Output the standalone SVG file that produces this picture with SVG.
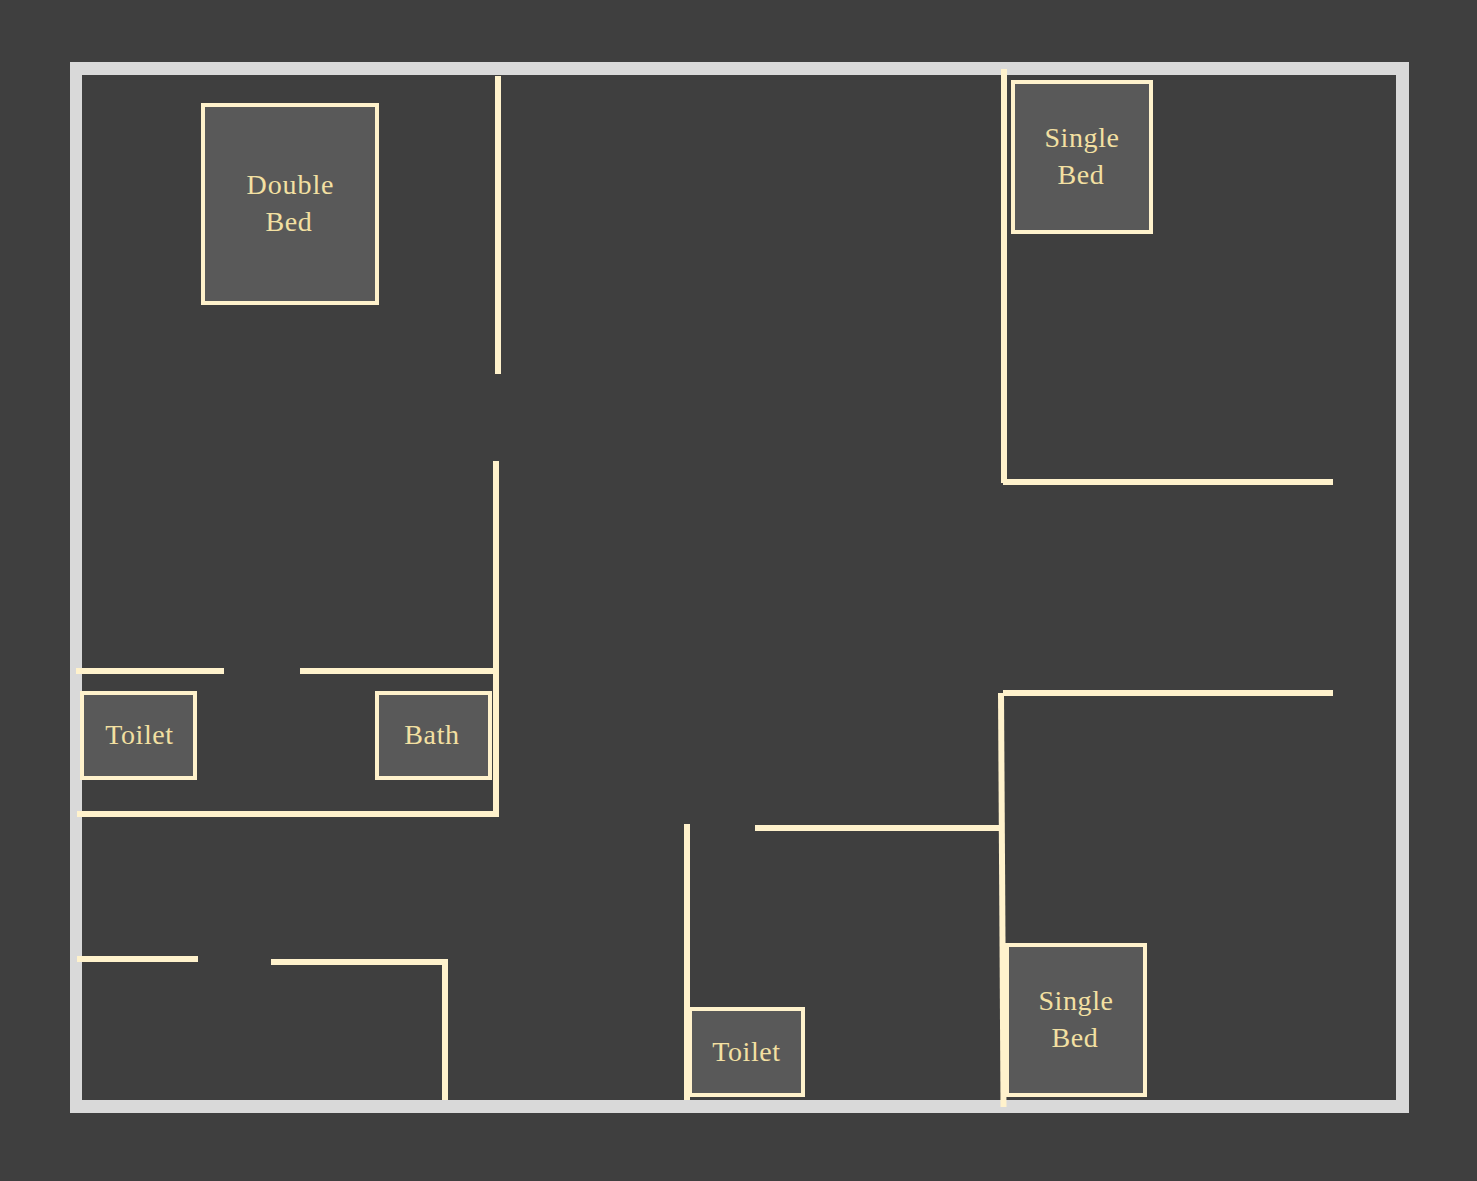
<svg xmlns="http://www.w3.org/2000/svg" width="1477" height="1181" viewBox="0 0 1477 1181">
<style>
.wall{stroke:#fff2cc;stroke-width:6;fill:none}
.item rect{fill:#595959;stroke:#fff2cc;stroke-width:4}
.item text{font-family:"Liberation Serif","Times New Roman",serif;font-size:28px;fill:#f3e0a2;text-anchor:middle;letter-spacing:.6px}
</style>
<rect width="1477" height="1181" fill="#3f3f3f"/>
<path id="outer" fill="#d9d9d9" fill-rule="evenodd" d="M70 62H1409V1113H70ZM82 75V1100H1396V75Z"/>
<g id="connectors">
<path class="wall" d="M498 76V374"/>
<path class="wall" d="M496 461V816"/>
<path class="wall" d="M76 671H224"/>
<path class="wall" d="M300 671H496"/>
<path class="wall" d="M77 814H499"/>
<path class="wall" d="M77 959H198"/>
<path class="wall" d="M271 962H447"/>
<path class="wall" d="M445 959V1100"/>
<path class="wall" d="M687 824V1100"/>
<path class="wall" d="M755 828H1001"/>
<path class="wall" d="M1001 693L1003.500 1107"/>
<path class="wall" d="M1003 693H1333"/>
<path class="wall" d="M1004 69V483"/>
<path class="wall" d="M1003 482H1333"/>
</g>
<g id="double-bed" class="item"><rect x="203" y="105" width="174" height="198"/><text x="290.500" y="194" style="letter-spacing:.9px">Double</text><text x="289" y="230.500">Bed</text></g>
<g id="single-bed-top" class="item"><rect x="1013" y="82" width="138" height="150"/><text x="1082" y="147">Single</text><text x="1081" y="183.500">Bed</text></g>
<g id="toilet-left" class="item"><rect x="82" y="693" width="113" height="85"/><text x="139.500" y="744">Toilet</text></g>
<g id="bath" class="item"><rect x="377" y="693" width="113" height="85"/><text x="432" y="744">Bath</text></g>
<g id="toilet-bottom" class="item"><rect x="690" y="1009" width="113" height="86"/><text x="746.500" y="1061">Toilet</text></g>
<g id="single-bed-bottom" class="item"><rect x="1007" y="945" width="138" height="150"/><text x="1076" y="1010">Single</text><text x="1075" y="1046.500">Bed</text></g>
</svg>
